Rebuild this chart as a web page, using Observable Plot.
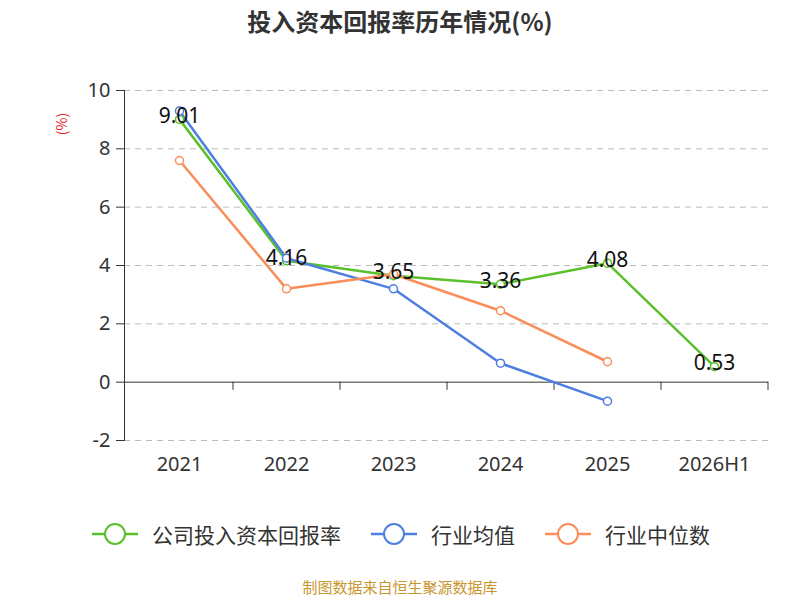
<!DOCTYPE html>
<html><head><meta charset="utf-8">
<script src="https://cdn.jsdelivr.net/npm/d3@7"></script>
<script src="https://cdn.jsdelivr.net/npm/@observablehq/plot@0.6"></script>
<style>
body{margin:0;font-family:"Noto Sans CJK SC","Noto Sans",sans-serif;background:#fff}
#wrap{position:relative;width:800px;height:600px}
#title{position:absolute;top:3px;left:0;width:800px;text-align:center;font-size:24px;font-weight:bold;color:#333}
#chart{position:absolute;top:0;left:0}
#legend{position:absolute;top:519px;left:0;width:800px;display:flex;justify-content:center;gap:28px;font-size:21px;color:#333;align-items:center}
#legend span{display:flex;align-items:center;gap:12px}
#cap{position:absolute;top:576px;left:0;width:800px;text-align:center;font-size:15px;color:#c8962e}
#unit{position:absolute;left:50px;top:114px;transform:rotate(-90deg);color:#e02020;font-size:14px}
</style></head><body>
<div id="wrap">
<div id="chart"></div>
<div id="title">投入资本回报率历年情况(%)</div>
<div id="unit">(%)</div>
<div id="legend"></div>
<div id="cap">制图数据来自恒生聚源数据库</div>
</div>
<script>
const years=["2021","2022","2023","2024","2025","2026H1"];
const company=[9.01,4.16,3.65,3.36,4.08,0.53];
const industryMean=[9.3,4.25,3.2,0.65,-0.65];
const industryMedian=[7.6,3.2,3.7,2.45,0.7];
const yTicks=[-2,0,2,4,6,8,10];
const names=["公司投入资本回报率","行业均值","行业中位数"];
const colors=["#5ac02c","#4e7fe0","#f98e5a"];
const rows=[];
[company,industryMean,industryMedian].forEach((arr,i)=>arr.forEach((v,j)=>rows.push({s:names[i],x:years[j],y:v})));
const comp=company.map((v,j)=>({x:years[j],y:v}));
const plot=Plot.plot({
  width:800,height:520,marginTop:90,marginBottom:80,marginLeft:124,marginRight:32,
  x:{type:"point",domain:years,padding:0.5,label:null},
  y:{domain:[-2,10],label:null},
  style:{fontFamily:"Noto Sans, sans-serif",color:"#333"},
  marks:[
    Plot.gridY(yTicks.filter(d=>d!==0),{stroke:"#bbb",strokeOpacity:1,strokeDasharray:"6,5"}),
    Plot.ruleY([0],{stroke:"#333"}),
    Plot.ruleX(years,{x:d=>d,y1:0,y2:-0.28,dx:53.5,stroke:"#333"}),
    Plot.frame({anchor:"left",stroke:"#333"}),
    Plot.axisY({ticks:yTicks,tickFormat:d=>String(d),tickSize:8,tickPadding:6,fontSize:20,fill:"#333"}),
    Plot.axisX({fontSize:20,fill:"#333",tickSize:0,tickPadding:16}),
    Plot.line(rows,{x:"x",y:"y",z:"s",stroke:"s",strokeWidth:2.5}),
    Plot.dot(rows,{x:"x",y:"y",stroke:"s",fill:"white",r:4,strokeWidth:1.5}),
    Plot.text(comp,{x:"x",y:"y",text:d=>d.y.toFixed(2),fontSize:21,fill:"#111",dy:-3})
  ],
  color:{domain:names,range:colors}
});
document.getElementById("chart").appendChild(plot);
const lg=document.getElementById("legend");
names.forEach((n,i)=>{
  const s=document.createElement("span");
  s.innerHTML=`<svg width="50" height="26"><line x1="2" y1="13" x2="48" y2="13" stroke="${colors[i]}" stroke-width="2.5"/><circle cx="25" cy="13" r="10" fill="white" stroke="${colors[i]}" stroke-width="2"/></svg>${n}`;
  lg.appendChild(s);
});
</script></body></html>
